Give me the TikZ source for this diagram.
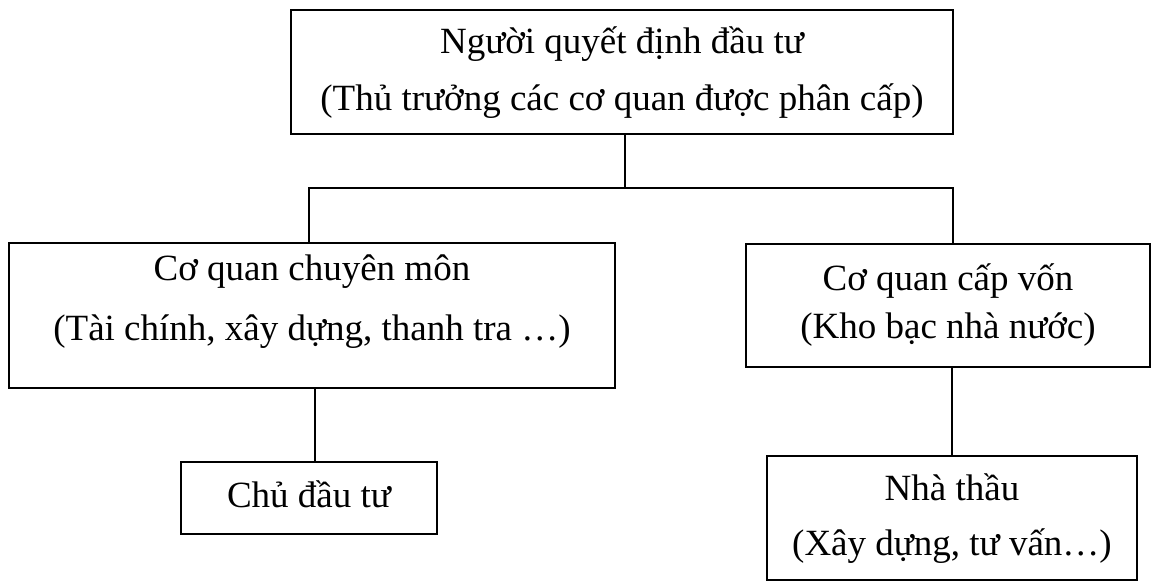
\documentclass[tikz,border=0pt]{standalone}
\usepackage{fontspec}
\setmainfont{Liberation Serif}
\begin{document}
\begin{tikzpicture}[x=1pt,y=-1pt,
  box/.style={draw=black,line width=2.6pt,rectangle,inner sep=0pt,align=center,
    font=\fontsize{37}{57}\selectfont},
  link/.style={draw=black,line width=1.8pt}]
\useasboundingbox (0,0) rectangle (1154,584);
\node[box,minimum width=662pt,minimum height=124pt,text height=84pt,text depth=8pt,
  font=\fontsize{37}{57}\selectfont] (top) at (622,72)
  {Người quyết định đầu tư\\(Thủ trưởng các cơ quan được phân cấp)};
\node[box,minimum width=606pt,minimum height=145pt,text height=87pt,text depth=38pt,
  font=\fontsize{37}{60}\selectfont] (left) at (312,315.5)
  {Cơ quan chuyên môn\\(Tài chính, xây dựng, thanh tra …)};
\node[box,minimum width=404pt,minimum height=123pt,text height=75pt,text depth=10pt,
  font=\fontsize{37}{48}\selectfont] (right) at (948,305.5)
  {Cơ quan cấp vốn\\(Kho bạc nhà nước)};
\node[box,minimum width=256pt,minimum height=72pt,text height=27pt,text depth=9pt] (cdt) at (309,498)
  {Chủ đầu tư};
\node[box,minimum width=370pt,minimum height=124pt,text height=82pt,text depth=8pt,
  font=\fontsize{37}{55}\selectfont] (nt) at (952,518)
  {Nhà thầu\\(Xây dựng, tư vấn…)};
\coordinate (bus) at (625,188);
\draw[link] ([xshift=3pt]top.south) -- ([xshift=3pt]top.south |- bus);
\draw[link] ([xshift=-3pt]left.north) |- (bus) -| ([xshift=5pt]right.north);
\draw[link] ([xshift=6pt]cdt.north) -- ([xshift=6pt]cdt.north |- left.south);
\draw[link] (nt.north) -- (nt.north |- right.south);
\end{tikzpicture}
\end{document}
